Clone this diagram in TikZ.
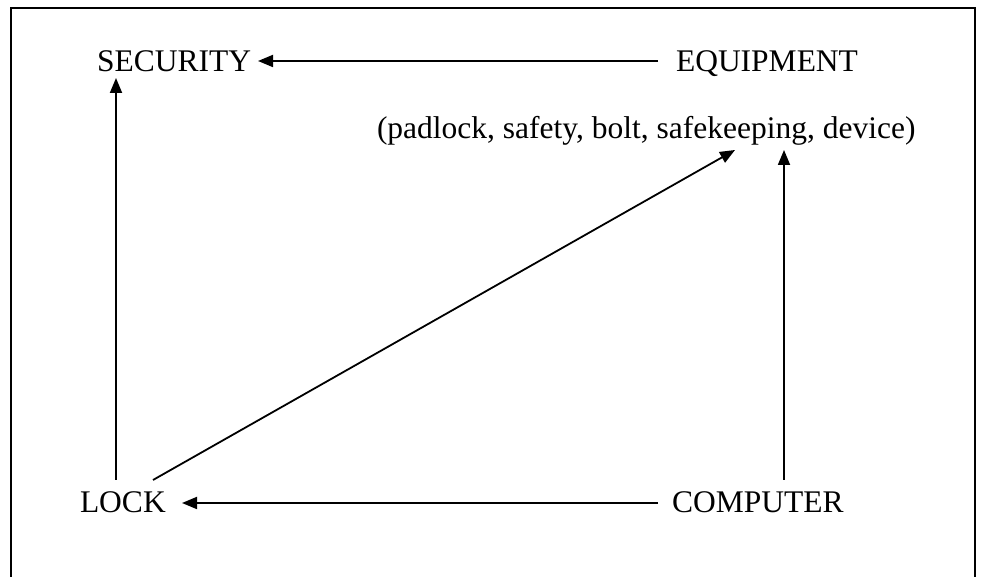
\documentclass[tikz,border=0pt]{standalone}
\usepackage{fontspec}
\setmainfont{Liberation Serif}
\usetikzlibrary{arrows.meta,calc}
\begin{document}
\begin{tikzpicture}[x=1pt,y=1pt,
  label/.style={inner sep=0pt,outer sep=0pt,anchor=base west,
    font=\fontsize{31.5}{36}\selectfont},
  arr/.style={line width=1.8pt,-{Triangle[length=15pt,width=12pt]}}]
\useasboundingbox (0,0) rectangle (984,577);
% frame, open at the bottom
\draw[line width=1.3pt] (11,0) -- (11,569) -- (975,569) -- (975,0);
% terms
\node[label] (sec)   at (97,505)  {SECURITY};
\node[label] (equip) at (676,505) {EQUIPMENT};
\node[label] (paren) at (377,438) {(padlock, safety, bolt, safekeeping, device)};
\node[label] (lock)  at (80,64)   {LOCK};
\node[label] (comp)  at (672,64)  {COMPUTER};
% relations
\draw[arr] ($(equip.base west)+(-18,11)$) -- ($(sec.base west)+(161,11)$);
\draw[arr] ($(comp.base west)+(-14,10)$) -- ($(lock.base west)+(102,10)$);
\draw[arr] ($(lock.base west)+(36,33)$) -- ($(sec.base west)+(19,-6)$);
\draw[arr] ($(lock.base west)+(73,33)$) -- ($(paren.base west)+(358,-11)$);
\draw[arr] ($(comp.base west)+(112,33)$) -- ($(paren.base west)+(407,-11)$);
\end{tikzpicture}
\end{document}
